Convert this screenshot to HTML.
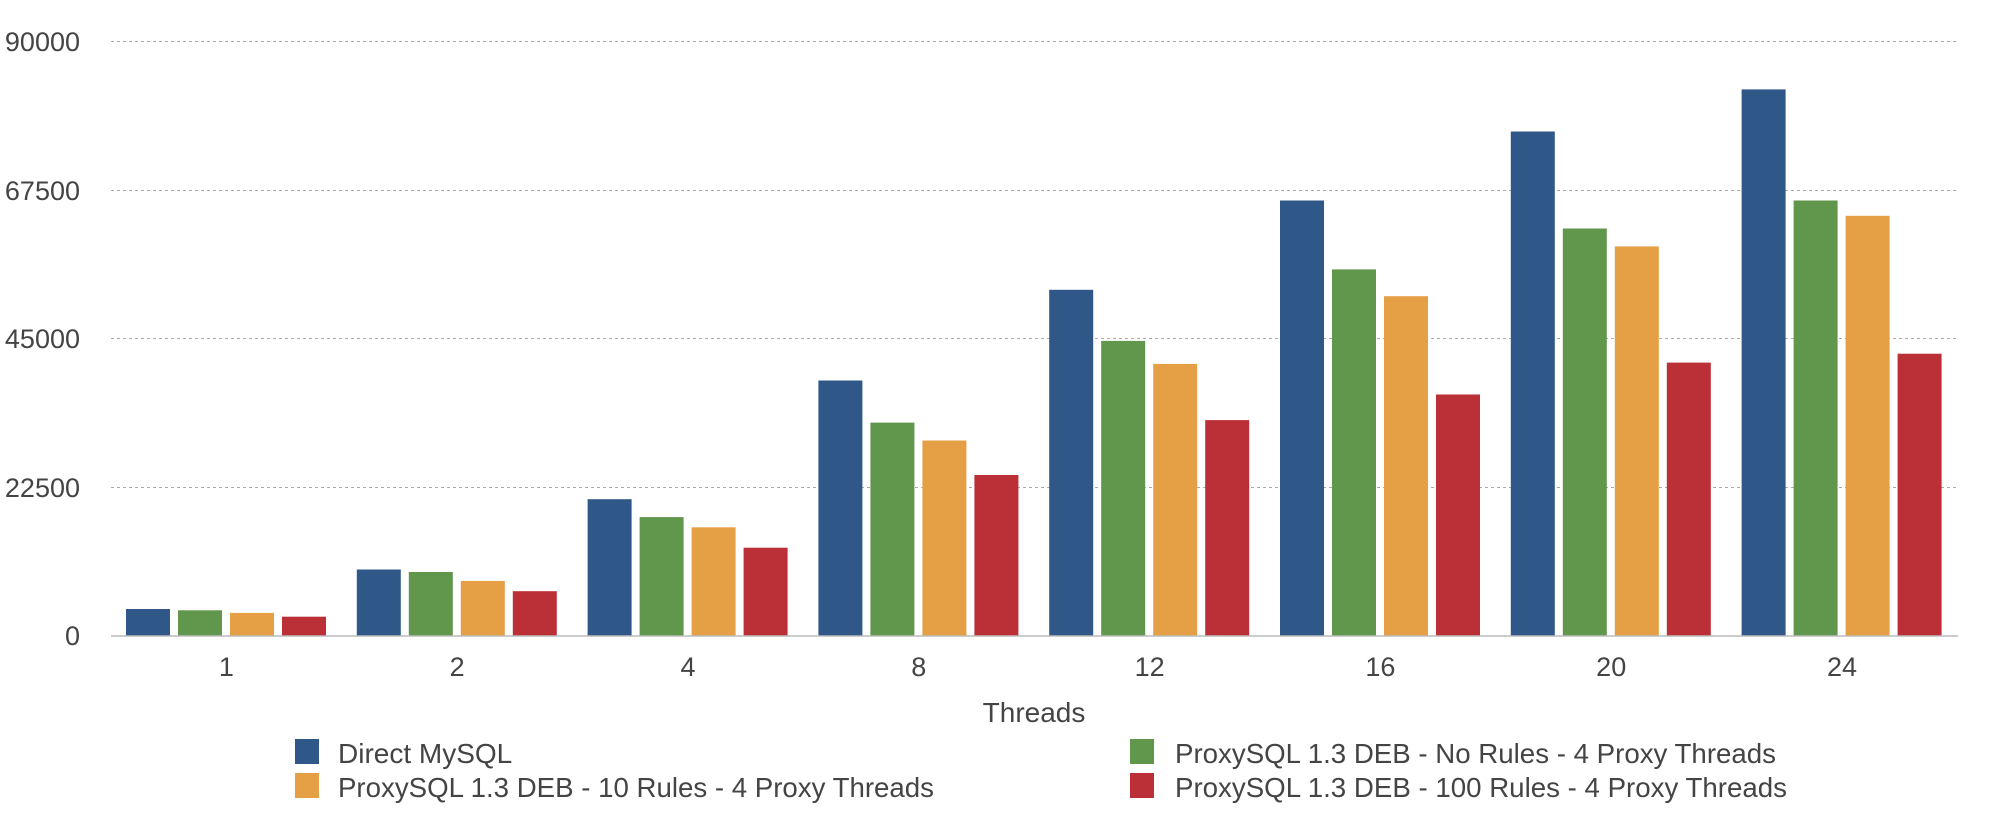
<!DOCTYPE html>
<html><head><meta charset="utf-8"><style>html,body{margin:0;padding:0;background:#fff;}svg{display:block;}</style></head>
<body>
<svg width="2002" height="832" viewBox="0 0 2002 832" xmlns="http://www.w3.org/2000/svg" font-family="Liberation Sans, sans-serif">
<g stroke="#aaa" stroke-width="1" stroke-dasharray="3,3">
<line x1="111" y1="41.5" x2="1958" y2="41.5"/>
<line x1="111" y1="190.5" x2="1958" y2="190.5"/>
<line x1="111" y1="338.5" x2="1958" y2="338.5"/>
<line x1="111" y1="487.5" x2="1958" y2="487.5"/>
</g>
<g fill="#444" font-size="27" text-anchor="end">
<text x="80" y="51">90000</text>
<text x="80" y="200">67500</text>
<text x="80" y="348">45000</text>
<text x="80" y="497">22500</text>
<text x="80" y="645">0</text>
</g>
<g id="bars">
<g transform="translate(111,0)"><rect x="15" y="609" width="44" height="26.8" fill="#2f5889"/><rect x="67" y="610.3" width="44" height="25.5" fill="#61964d"/><rect x="119" y="612.9" width="44" height="22.9" fill="#e5a046"/><rect x="171" y="616.7" width="44" height="19.1" fill="#bb2f36"/></g>
<g transform="translate(341.8,0)"><rect x="15" y="569.5" width="44" height="66.3" fill="#2f5889"/><rect x="67" y="572" width="44" height="63.8" fill="#61964d"/><rect x="119" y="580.9" width="44" height="54.9" fill="#e5a046"/><rect x="171" y="591.2" width="44" height="44.6" fill="#bb2f36"/></g>
<g transform="translate(572.6,0)"><rect x="15" y="499.2" width="44" height="136.6" fill="#2f5889"/><rect x="67" y="517.1" width="44" height="118.7" fill="#61964d"/><rect x="119" y="527.3" width="44" height="108.5" fill="#e5a046"/><rect x="171" y="547.7" width="44" height="88.1" fill="#bb2f36"/></g>
<g transform="translate(803.4,0)"><rect x="15" y="380.5" width="44" height="255.3" fill="#2f5889"/><rect x="67" y="422.6" width="44" height="213.2" fill="#61964d"/><rect x="119" y="440.5" width="44" height="195.3" fill="#e5a046"/><rect x="171" y="475" width="44" height="160.8" fill="#bb2f36"/></g>
<g transform="translate(1034.2,0)"><rect x="15" y="289.8" width="44" height="346" fill="#2f5889"/><rect x="67" y="340.9" width="44" height="294.9" fill="#61964d"/><rect x="119" y="363.9" width="44" height="271.9" fill="#e5a046"/><rect x="171" y="420.1" width="44" height="215.7" fill="#bb2f36"/></g>
<g transform="translate(1265,0)"><rect x="15" y="200.5" width="44" height="435.3" fill="#2f5889"/><rect x="67" y="269.4" width="44" height="366.4" fill="#61964d"/><rect x="119" y="296.2" width="44" height="339.6" fill="#e5a046"/><rect x="171" y="394.5" width="44" height="241.3" fill="#bb2f36"/></g>
<g transform="translate(1495.8,0)"><rect x="15" y="131.5" width="44" height="504.3" fill="#2f5889"/><rect x="67" y="228.5" width="44" height="407.3" fill="#61964d"/><rect x="119" y="246.4" width="44" height="389.4" fill="#e5a046"/><rect x="171" y="362.6" width="44" height="273.2" fill="#bb2f36"/></g>
<g transform="translate(1726.6,0)"><rect x="15" y="89.4" width="44" height="546.4" fill="#2f5889"/><rect x="67" y="200.5" width="44" height="435.3" fill="#61964d"/><rect x="119" y="215.8" width="44" height="420" fill="#e5a046"/><rect x="171" y="353.7" width="44" height="282.1" fill="#bb2f36"/></g>
</g>
<line x1="111" y1="636" x2="1958" y2="636" stroke="#bbb" stroke-width="1.5"/>
<g fill="#444" font-size="27" text-anchor="middle">
<text x="226.4" y="676">1</text>
<text x="457.2" y="676">2</text>
<text x="688" y="676">4</text>
<text x="918.8" y="676">8</text>
<text x="1149.6" y="676">12</text>
<text x="1380.4" y="676">16</text>
<text x="1611.2" y="676">20</text>
<text x="1842" y="676">24</text>
<text x="1034" y="722" font-size="28">Threads</text>
</g>
<rect x="295" y="739" width="24" height="25" fill="#2f5889"/>
<rect x="295" y="773" width="24" height="25" fill="#e5a046"/>
<rect x="1130" y="739" width="24" height="25" fill="#61964d"/>
<rect x="1130" y="773" width="24" height="25" fill="#bb2f36"/>
<g fill="#444" font-size="28">
<text x="338" y="763">Direct MySQL</text>
<text x="338" y="797" textLength="596" lengthAdjust="spacingAndGlyphs">ProxySQL 1.3 DEB - 10 Rules - 4 Proxy Threads</text>
<text x="1175" y="763" textLength="601" lengthAdjust="spacingAndGlyphs">ProxySQL 1.3 DEB - No Rules - 4 Proxy Threads</text>
<text x="1175" y="797" textLength="612" lengthAdjust="spacingAndGlyphs">ProxySQL 1.3 DEB - 100 Rules - 4 Proxy Threads</text>
</g>
</svg>
</body></html>
